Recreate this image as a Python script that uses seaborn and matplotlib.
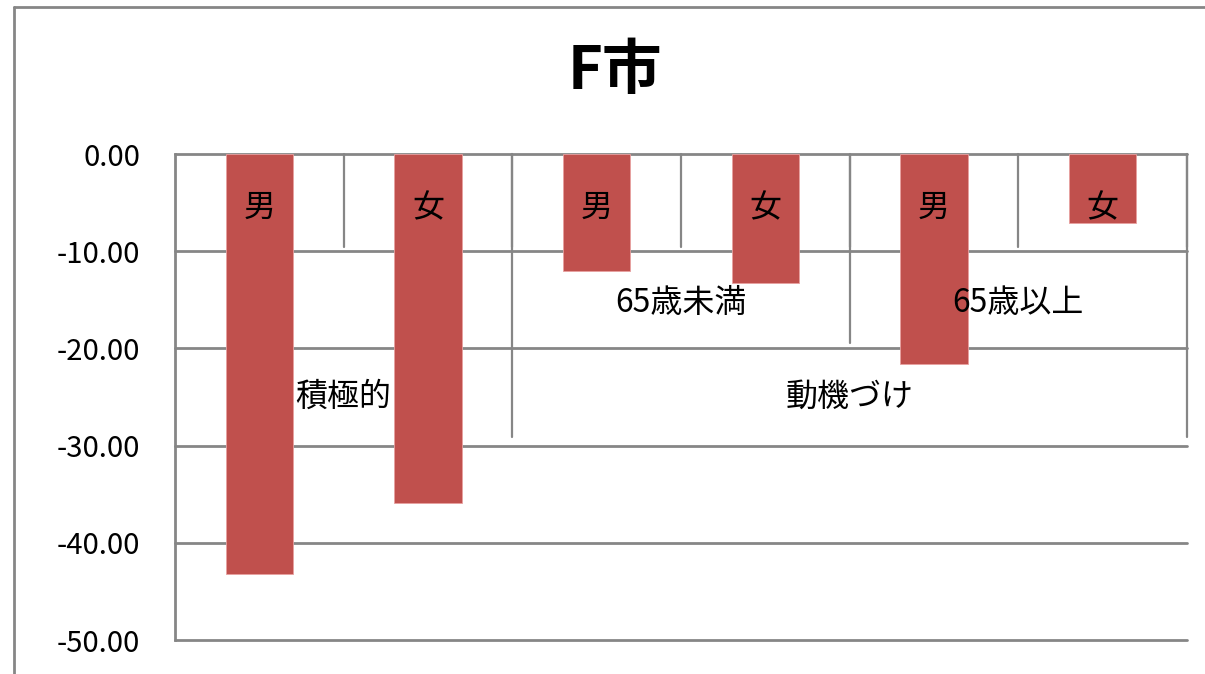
import matplotlib
matplotlib.use("Agg")
import matplotlib.pyplot as plt
from matplotlib.lines import Line2D
import seaborn as sns
import pandas as pd

# Data: three-level category axis (type / age group / sex)
types = ["積極的", "積極的", "動機づけ", "動機づけ", "動機づけ", "動機づけ"]
age_groups = ["", "", "65歳未満", "65歳未満", "65歳以上", "65歳以上"]
sexes = ["男", "女", "男", "女", "男", "女"]
values = [-43.2, -35.9, -12.0, -13.3, -21.6, -7.1]
y_ticks = [0, -10, -20, -30, -40, -50]
title = "F市"

df = pd.DataFrame({
    "key": [f"{t}|{a}|{s}" for t, a, s in zip(types, age_groups, sexes)],
    "value": values,
})

sns.set_theme(style="white")
plt.rcParams["font.family"] = ["Noto Sans CJK JP", "DejaVu Sans"]

GRAY = "#868686"
BAR = "#C0504D"

W, H = 1205, 674
fig = plt.figure(figsize=(W / 100, H / 100), dpi=100)
ax = fig.add_axes([175 / W, 1 - 640 / H, (1187 - 175) / W, (640 - 154) / H])

sns.barplot(data=df, x="key", y="value", color=BAR, width=0.4,
            saturation=1, ax=ax, zorder=3)
for p in ax.patches:
    p.set_edgecolor("#E8A0A0")
    p.set_linewidth(0.6)

ax.set_xlim(-0.5, len(values) - 0.5)
ax.set_ylim(-50, 0)
ax.set_yticks(y_ticks)
ax.set_yticklabels([f"{v:.2f}" for v in y_ticks], fontsize=21, color="black")
ax.set_xticks([])
ax.set_xlabel("")
ax.set_ylabel("")

for side in ["top", "right", "bottom"]:
    ax.spines[side].set_visible(False)
ax.spines["left"].set_color(GRAY)
ax.spines["left"].set_linewidth(2)
ax.tick_params(axis="y", direction="out", length=7, width=2, color=GRAY, pad=18)

# horizontal gridlines
for v in y_ticks:
    ax.axhline(v, color=GRAY, lw=2, zorder=1, clip_on=False)

trans = ax.get_xaxis_transform()
n = len(values)

# level-1 separators (between every category)
for i in range(1, n + 1):
    ax.plot([i - 0.5, i - 0.5], [1, 0.809], transform=trans, color=GRAY,
            lw=1.6, zorder=1, clip_on=False)

# level-2 separator between age groups
ax.plot([3.5, 3.5], [1, 0.611], transform=trans, color=GRAY, lw=1.6, zorder=1)

# level-3 separators (group boundaries)
for x in [1.5, n - 0.5]:
    ax.plot([x, x], [1, 0.418], transform=trans, color=GRAY, lw=1.6, zorder=1,
            clip_on=False)

lab_kw = dict(fontsize=23, color="black", ha="center", va="center",
              transform=trans, zorder=5)

for i, s in enumerate(sexes):
    ax.text(i, 0.889, s, **lab_kw)

# age group labels
i = 0
while i < n:
    j = i
    while j + 1 < n and age_groups[j + 1] == age_groups[i] and types[j + 1] == types[i]:
        j += 1
    if age_groups[i]:
        ax.text((i + j) / 2, 0.693, age_groups[i], **lab_kw)
    i = j + 1

# type labels
i = 0
while i < n:
    j = i
    while j + 1 < n and types[j + 1] == types[i]:
        j += 1
    ax.text((i + j) / 2, 0.5, types[i], **lab_kw)
    i = j + 1

fig.text(615 / W, 1 - 72 / H, title, fontsize=43, fontweight="bold",
         color="black", ha="center", va="center")

# chart border
fig.add_artist(Line2D([14 / W, 14 / W], [0, 1 - 7 / H], color=GRAY, lw=2,
                      transform=fig.transFigure))
fig.add_artist(Line2D([14 / W, 1], [1 - 7 / H, 1 - 7 / H], color=GRAY, lw=2,
                      transform=fig.transFigure))

fig.savefig("out.png", dpi=100, facecolor="white")
